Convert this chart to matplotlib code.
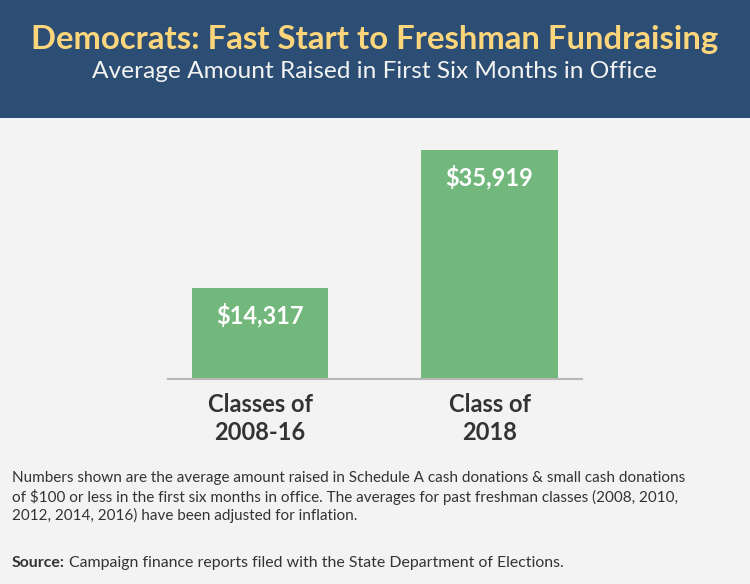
import matplotlib
matplotlib.use("Agg")
import matplotlib.pyplot as plt
from matplotlib.patches import Rectangle

categories = ["Classes of\n2008-16", "Class of\n2018"]
values = [14317, 35919]
value_labels = ["$14,317", "$35,919"]

title = "Democrats: Fast Start to Freshman Fundraising"
subtitle = "Average Amount Raised in First Six Months in Office"
note = ("Numbers shown are the average amount raised in Schedule A cash donations & small cash donations\n"
        "of \\$100 or less in the first six months in office. The averages for past freshman classes (2008, 2010,\n"
        "2012, 2014, 2016) have been adjusted for inflation.")

plt.rcParams['font.family'] = ['Lato', 'DejaVu Sans']

W, H = 750, 584
fig = plt.figure(figsize=(W/100, H/100), dpi=100)
fig.patch.set_facecolor('#f2f3f2')

# header band
fig.patches.append(Rectangle((0, 1-118/H), 1, 118/H, transform=fig.transFigure,
                             facecolor='#2d4e74', edgecolor='none', zorder=0))
fig.text(0.5, 1-40/H, title, ha='center', va='center', color='#fdd67c',
         fontsize=23.7, fontweight='bold')
fig.text(0.5, 1-72/H, subtitle, ha='center', va='center', color='#f2f3f2',
         fontsize=17.6)

ax = fig.add_axes([168/W, (H-379)/H, 414/W, 255/H])
ax.set_facecolor('none')
x = list(range(len(categories)))
ax.bar(x, values, width=0.593, color='#72b77b', zorder=2)
ax.set_xlim(-0.401, 1.403)
ax.set_ylim(0, 40000)
for s in ['top', 'right', 'left']:
    ax.spines[s].set_visible(False)
ax.spines['bottom'].set_color('#b8b8b8')
ax.spines['bottom'].set_linewidth(1.5)
ax.set_yticks([])
ax.set_xticks(x)
ax.set_xticklabels(categories, fontsize=17, fontweight='bold', color='#333333',
                   linespacing=1.25)
ax.tick_params(axis='x', length=0, pad=10)
for xi, v, lab in zip(x, values, value_labels):
    ax.annotate(lab, (xi, v), xytext=(0, -27), textcoords='offset pixels',
                ha='center', va='center', color='white', fontsize=17, fontweight='bold')

fig.text(12/W, 1-497/H, note, ha='left', va='center', color='#333333',
         fontsize=11.0, linespacing=1.27)
t1 = fig.text(12/W, 1-563/H, "Source:", ha='left', va='center', color='#333333',
              fontsize=11.4, fontweight='bold')
fig.canvas.draw()
bb = t1.get_window_extent()
fig.text((bb.x1 + 4)/W, 1-563/H, "Campaign finance reports filed with the State Department of Elections.",
         ha='left', va='center', color='#333333', fontsize=11.4)

fig.savefig("out.png", dpi=100, facecolor=fig.get_facecolor())
